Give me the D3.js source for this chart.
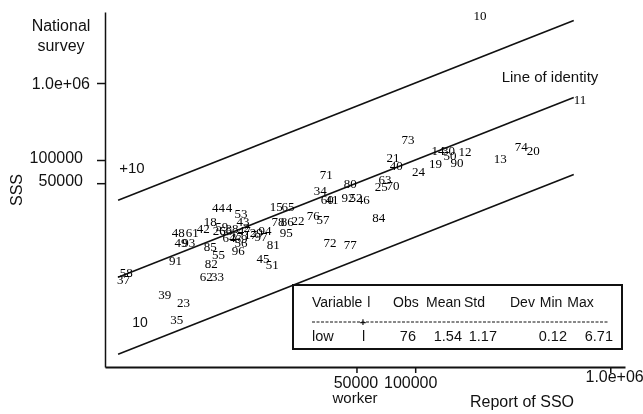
<!DOCTYPE html>
<html>
<head>
<meta charset="utf-8">
<script src="https://cdn.jsdelivr.net/npm/d3@7"></script>
<style>
  body { margin: 0; background: #fff; }
  svg { display: block; filter: grayscale(1); }
  text { font-family: "Liberation Sans", Arial, sans-serif; fill: #111; }
  .obs-label { font-family: "Liberation Serif", "Times New Roman", serif; font-size: 13px; fill: #000; }
</style>
</head>
<body>
<svg id="chart" width="643" height="414"></svg>
<script>
// observation ids, SSO report (x) and national survey SSS (y)
const obsIds = ["10", "11", "74", "20", "13", "14", "30", "12", "50", "90",
  "19", "24", "73", "21", "40", "63", "25", "70", "84", "80",
  "92", "52", "46", "71", "34", "60", "41", "76", "57", "72",
  "77", "15", "65", "78", "86", "22", "95", "81", "45", "51",
  "44", "4", "53", "43", "18", "42", "48", "61", "49", "93",
  "85", "55", "82", "62", "33", "91", "58", "37", "39", "23",
  "35", "96", "56", "26", "66", "38", "27", "47", "17", "29",
  "97", "94", "64", "2", "69", "59"];
const ssoReport = [215000, 700000, 350000, 403000, 273000, 131000, 148000, 180000, 151000, 164000,
  127000, 104000, 92000, 77000, 80000, 70000, 67000, 77000, 65000, 46400,
  45300, 49800, 54100, 35000, 32600, 35400, 37500, 30000, 33700, 36600,
  46400, 19400, 22300, 19800, 22100, 25100, 21800, 18700, 16600, 18500,
  9800, 11100, 12800, 13100, 8900, 8200, 6100, 7200, 6300, 6900,
  8900, 9800, 9000, 8500, 9700, 5900, 3300, 3200, 5200, 6500,
  6000, 12400, 12800, 9900, 10700, 11500, 12100, 13300, 14300, 15300,
  16200, 17000, 11100, 13700, 12800, 10200];
const sssSurvey = [7640000, 620000, 152000, 135000, 106000, 135000, 135000, 131000, 113000, 94000,
  91500, 72000, 187000, 109000, 86000, 56600, 45900, 47300, 17700, 50200,
  33100, 33100, 31200, 65800, 40700, 31200, 30300, 18800, 17100, 8600,
  8100, 25300, 25300, 16100, 15700, 16600, 11600, 7900, 5300, 4460,
  24500, 24500, 20500, 16100, 16100, 13100, 11300, 11300, 8400, 8400,
  7600, 6000, 4600, 3120, 3120, 5000, 3500, 2770, 1820, 1430,
  860, 6600, 8400, 12300, 12000, 13100, 10300, 12300, 10900, 11600,
  10300, 12000, 10000, 13500, 9700, 13900];

// reference lines y = 10x, y = x, y = x/10 over the observed range
const fitRange = [3000, 650000];
const fitFactors = [10, 1, 0.1];

const xTicks = [50000, 100000, 1e6];
const xTickLabels = ["50000", "100000", "1.0e+06"];
const yTicks = [1e6, 100000, 50000];
const yTickLabels = ["1.0e+06", "100000", "50000"];

const tableHeader = ["Variable l", "Obs", "Mean", "Std", "Dev Min Max"];
const tableRow = ["low", "l", "76", "1.54", "1.17", "0.12", "6.71"];

const svg = d3.select("#chart");

const x = d3.scaleLog().domain([2570, 1.19e6]).range([105, 625]);
const y = d3.scaleLog().domain([205, 8.36e6]).range([367, 12]);

// fitted lines
const lineGen = d3.line().x((d) => x(d[0])).y((d) => y(d[1]));
svg.append("g")
  .selectAll("path")
  .data(fitFactors)
  .join("path")
  .attr("d", (f) => lineGen(fitRange.map((v) => [v, v * f])))
  .attr("fill", "none")
  .attr("stroke", "#111")
  .attr("stroke-width", 1.6);

// observation labels
svg.append("g")
  .selectAll("text")
  .data(obsIds)
  .join("text")
  .attr("class", "obs-label")
  .attr("x", (d, i) => x(ssoReport[i]))
  .attr("y", (d, i) => y(sssSurvey[i]))
  .attr("dy", "0.35em")
  .attr("text-anchor", "middle")
  .text((d) => d);

// y axis
const yAxis = svg.append("g")
  .attr("transform", "translate(105,0)")
  .call(d3.axisLeft(y).tickValues(yTicks).tickFormat((d, i) => yTickLabels[i]).tickSize(8).tickSizeOuter(0));
yAxis.select(".domain").attr("stroke", "#111").attr("stroke-width", 1.5);
yAxis.selectAll(".tick line").attr("stroke", "#111").attr("stroke-width", 1.5);
yAxis.selectAll(".tick text")
  .attr("x", (d) => (d === 1e6 ? -15 : -22))
  .attr("dy", (d) => (d === 1e6 ? "0.32em" : "0.15em"))
  .style("font-size", "16px")
  .style("font-family", "'Liberation Sans', Arial, sans-serif")
  .attr("fill", "#111");

// x axis
const xAxis = svg.append("g")
  .attr("transform", "translate(0,367)")
  .call(d3.axisBottom(x).tickValues(xTicks).tickFormat((d, i) => xTickLabels[i]).tickSize(6).tickSizeOuter(0));
xAxis.select(".domain").attr("stroke", "#111").attr("stroke-width", 1.8);
xAxis.selectAll(".tick line").attr("stroke", "#111").attr("stroke-width", 1.5);
xAxis.selectAll(".tick text")
  .attr("y", (d) => (d === 1e6 ? 15 : 21))
  .attr("dy", 0)
  .attr("x", (d) => (d === 1e6 ? 33 : d === 100000 ? -5 : -1))
  .attr("text-anchor", (d) => (d === 1e6 ? "end" : "middle"))
  .style("font-size", "16px")
  .style("font-family", "'Liberation Sans', Arial, sans-serif")
  .attr("fill", "#111");

// titles and annotations
svg.append("text").attr("x", 61).attr("y", 31).attr("text-anchor", "middle")
  .style("font-size", "16px").text("National");
svg.append("text").attr("x", 61).attr("y", 51).attr("text-anchor", "middle")
  .style("font-size", "16px").text("survey");
svg.append("text").attr("transform", "translate(22,190) rotate(-90)").attr("text-anchor", "middle")
  .style("font-size", "16px").text("SSS");
svg.append("text").attr("x", 355).attr("y", 403).attr("text-anchor", "middle")
  .style("font-size", "15px").text("worker");
svg.append("text").attr("x", 522).attr("y", 407).attr("text-anchor", "middle")
  .style("font-size", "16px").text("Report of SSO");
svg.append("text").attr("x", 550).attr("y", 82).attr("text-anchor", "middle")
  .style("font-size", "15px").text("Line of identity");
svg.append("text").attr("x", 132).attr("y", 173).attr("text-anchor", "middle")
  .style("font-size", "15px").text("+10");
svg.append("text").attr("x", 140).attr("y", 327).attr("text-anchor", "middle")
  .style("font-size", "14px").text("10");

// summary table
const tbl = svg.append("g");
tbl.append("rect")
  .attr("x", 293).attr("y", 285).attr("width", 329).attr("height", 64)
  .attr("fill", "#fff").attr("stroke", "#111").attr("stroke-width", 2);
const headerX = [312, 393, 426, 464, 510];
tbl.selectAll("text.hdr")
  .data(tableHeader)
  .join("text")
  .attr("class", "hdr")
  .attr("x", (d, i) => headerX[i])
  .attr("y", 307)
  .style("font-size", "14px")
  .style("word-spacing", "1px")
  .text((d) => d);
tbl.append("line")
  .attr("x1", 312).attr("x2", 608).attr("y1", 322).attr("y2", 322)
  .attr("stroke", "#111").attr("stroke-width", 1).attr("stroke-dasharray", "3,1.5");
tbl.append("text").attr("x", 363).attr("y", 326).attr("text-anchor", "middle")
  .style("font-size", "11px").style("font-weight", 700).text("+");
const rowX = [312, 362, 416, 462, 497, 567, 613];
tbl.selectAll("text.row")
  .data(tableRow)
  .join("text")
  .attr("class", "row")
  .attr("x", (d, i) => rowX[i])
  .attr("y", 341)
  .attr("text-anchor", (d, i) => (i < 2 ? "start" : "end"))
  .style("font-size", "14.5px")
  .text((d) => d);
</script>
</body>
</html>
